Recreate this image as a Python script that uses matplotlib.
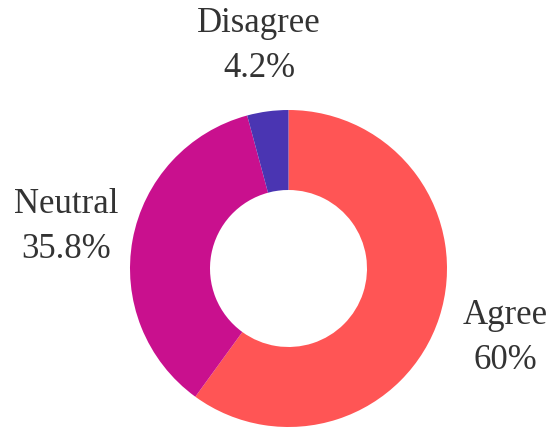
import matplotlib
matplotlib.use('Agg')
import matplotlib.pyplot as plt

labels = ['Agree', 'Neutral', 'Disagree']
values = [60, 35.8, 4.2]
colors = ['#FF5555', '#C9108E', '#4A35B2']
pct_text = ['60%', '35.8%', '4.2%']

# label centres in pixels (x, y from top)
label_pos = [(505, 338), (66, 227), (259, 46)]

fig = plt.figure(figsize=(5.5, 4.28), dpi=100)
ax = fig.add_axes([0, 0, 1, 1])

ax.pie(values, colors=colors, startangle=90, counterclock=False,
       center=(288.5, 159.5), radius=158.5, frame=True,
       wedgeprops=dict(width=80, edgecolor='none'))
ax.set_xlim(0, 550)
ax.set_ylim(0, 428)
ax.set_aspect('equal')
ax.axis('off')

for name, pct, (x, y) in zip(labels, pct_text, label_pos):
    ax.text(x, 428 - y, name + '\n' + pct, ha='center', va='center',
            fontsize=25, family='Liberation Serif', color='#333333',
            linespacing=1.5)

plt.savefig('out.png', dpi=100)
plt.close()
